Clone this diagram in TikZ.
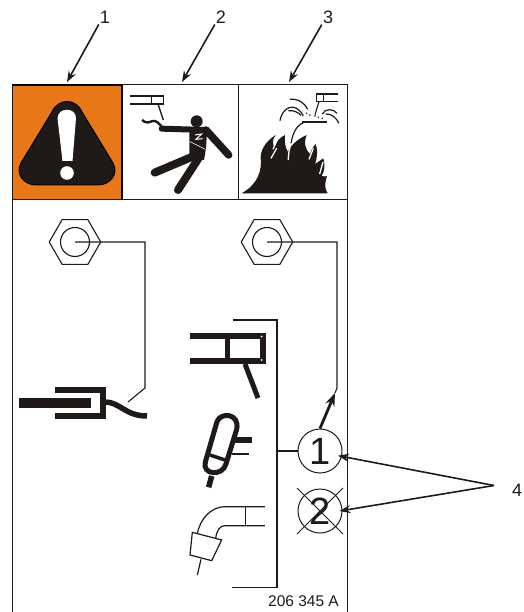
\documentclass[tikz,border=0pt]{standalone}
\usepackage{fontspec}
\setmainfont{Liberation Sans}
\usetikzlibrary{calc, positioning, arrows.meta, shapes.geometric}
\definecolor{warnorange}{HTML}{E87817}
\definecolor{inkblack}{HTML}{1F1A17}
\tikzset{
  frame/.style={line width=1pt, draw=inkblack},
  lead/.style={line width=1.6pt, draw=inkblack, ->},
  wire/.style={line width=1.1pt, draw=inkblack},
  heavy/.style={line width=5.5pt, draw=inkblack},
  thinpart/.style={line width=1.1pt, draw=inkblack},
  nut/.style={draw=inkblack, line width=1.1pt, regular polygon, regular polygon sides=6,
    minimum size=51.5pt, inner sep=0pt},
  bore/.style={draw=inkblack, line width=1.1pt, circle, minimum size=29pt, inner sep=0pt},
  callout/.style={font=\fontsize{18}{20}\selectfont, text=inkblack, inner sep=1pt},
  bubble/.style={draw=inkblack, line width=1pt, circle, minimum size=44pt, inner sep=0pt,
    font=\fontsize{38}{40}\selectfont, text=inkblack}
}
\begin{document}
\begin{tikzpicture}[x=1pt, y=-1pt, >={Stealth[length=11pt,width=8pt]}]
  \useasboundingbox (0,0) rectangle (523,612);
  % label outline and the three warning panels
  \fill[warnorange] (12,85) rectangle (122,200);
  \draw[frame] (12,612) -- (12,85) -- (347,85) -- (347,612);
  \draw[frame] (12,200) -- (347,200);
  \draw[frame] (238.5,85) -- (238.5,200);
  \draw[line width=1.1pt, black] (122,85) -- (122,200);
  \draw[line width=1.6pt, black] (12,85) -- (122,85);
  % warning triangle
  \draw[fill=inkblack, draw=black, line width=1pt]
    (52,112) .. controls (58,98) and (76,98) .. (82,112) -- (113,163)
    .. controls (119,174) and (110,185) .. (98,185) -- (36,185)
    .. controls (24,185) and (15,174) .. (21,163) -- cycle;
  \fill[white] (57.5,118) .. controls (58,107) and (76,107) .. (76,118) -- (72.5,161) -- (62.5,161) -- cycle;
  \fill[white] (67,173) circle (6.8);
  % shock panel
  \begin{scope}[shift={(120,80)}, scale=0.3333]
    \draw[thinpart] (30,48) -- (130,48) -- (130,72) -- (30,72);
    \draw[thinpart] (95,48) -- (95,72);
    \draw[thinpart, line width=1.3pt] (114,72) -- (130,120);
    \draw[line width=2.4pt, inkblack] (66,120) .. controls (78,130) and (85,128) .. (95,124)
      .. controls (105,120) and (115,125) .. (128,145);
    \fill[inkblack] (230,124) circle (18);
    \draw[heavy, line width=6pt, line cap=round] (125,146) -- (258,150);
    \draw[heavy, line width=7.5pt, line cap=round] (258,150) -- (326,225);
    \fill[inkblack] (208,146) -- (262,143) -- (258,205) -- (252,240) -- (208,232) -- cycle;
    \draw[heavy, line width=8pt, line cap=round] (222,228) -- (104,278);
    \draw[heavy, line width=8pt, line cap=round] (240,228) -- (174,330);
    \draw[white, line width=1pt] (225,165) -- (245,162) -- (228,178) -- (248,176);
    \draw[white, line width=0.6pt] (210,185) -- (256,208);
  \end{scope}
  % fire panel
  \begin{scope}[shift={(235,80)}, scale=0.3333]
    \draw[thinpart] (310,42) -- (245,42) -- (245,65) -- (310,65);
    \draw[thinpart] (265,42) -- (265,65);
    \draw[thinpart] (252,65) -- (240,104);
    \draw[line width=1.8pt, inkblack] (200,125) -- (275,125);
    \draw[line width=1.2pt, inkblack] (135,122) .. controls (140,85) and (180,60) .. (205,108);
    \draw[line width=1.2pt, inkblack] (165,58) .. controls (190,55) and (210,70) .. (218,88);
    \draw[line width=1.2pt, inkblack] (160,92) .. controls (175,90) and (190,97) .. (198,106);
    \draw[line width=1.2pt, inkblack] (262,102) .. controls (270,85) and (295,85) .. (306,100);
    \draw[line width=1.2pt, inkblack] (272,102) .. controls (290,100) and (305,115) .. (312,130);
    \foreach \px/\py in {215/100, 225/105, 240/108, 250/112, 262/115} {
      \fill[inkblack] (\px,\py) circle (2.5);
    }
    \fill[inkblack] (20,340) .. controls (55,320) and (78,290) .. (78,245)
      .. controls (72,215) and (90,185) .. (122,165)
      .. controls (112,180) and (112,190) .. (116,200)
      .. controls (125,185) and (135,172) .. (150,165)
      .. controls (148,185) and (150,200) .. (158,215)
      .. controls (165,200) and (185,178) .. (215,165)
      .. controls (205,190) and (212,210) .. (225,222)
      .. controls (228,210) and (235,200) .. (242,192)
      .. controls (250,215) and (245,240) .. (240,252)
      .. controls (250,245) and (258,240) .. (265,235)
      .. controls (272,255) and (268,275) .. (260,288)
      .. controls (268,290) and (272,290) .. (276,288)
      .. controls (272,305) and (265,318) .. (278,340) -- cycle;
    \draw[white, line width=1.3pt] (168,190) .. controls (160,215) and (160,235) .. (160,240);
    \draw[inkblack, line width=1.2pt] (168,190) .. controls (175,150) and (190,130) .. (215,125);
    \draw[white, line width=1.3pt] (130,172) -- (114,208);
    \draw[white, line width=1.3pt] (108,235) -- (125,205);
    \draw[white, line width=1.3pt] (235,205) -- (222,238);
    \draw[white, line width=1.3pt] (264,246) -- (254,282);
  \end{scope}
  % callouts above the panels
  \node[callout] (lab1) at (105,17) {1};
  \node[callout] (lab2) at (221,17) {2};
  \node[callout] (lab3) at (328,17) {3};
  \coordinate (tip1) at (67,82);
  \coordinate (tip2) at (182,82);
  \coordinate (tip3) at (289,82);
  \foreach \i in {1,2,3} {
    \draw[lead] (lab\i.south west) -- (tip\i);
  }
  % nuts and their wires
  \node[nut] (nutA) at (75,242) {};
  \node[bore] (boreA) at (nutA.center) {};
  \node[nut] (nutB) at (267,242) {};
  \node[bore] (boreB) at (nutB.center) {};
  \coordinate (hoseEnd) at (128,402);
  \coordinate (wireEnd) at (335,393);
  \draw[wire] (nutA.center) -- (145,242) -- (145,388) -- (hoseEnd);
  \draw[wire] (nutB.center) -- (337,242) -- (337,388) -- (wireEnd);
  % fluid hose fitting
  \fill[inkblack] (19,398) rectangle (91,408);
  \draw[line width=6pt, inkblack] (55,390) -- (102.5,390) -- (102.5,416) -- (55,416);
  \draw[line width=5.5pt, inkblack] (105,402) .. controls (120,402) and (125,416) .. (147,416);
  % gun
  \draw[heavy] (190,336) -- (266,336);
  \draw[heavy] (190,361) -- (266,361);
  \draw[line width=4.5pt, inkblack] (227.5,333) -- (227.5,363.5);
  \draw[line width=6pt, inkblack] (262.5,333) -- (262.5,363.5);
  \fill[white] (261.5,336.5) circle (1) (261.5,360) circle (1);
  \draw[line width=5pt, inkblack] (245,364) -- (258,398);
  % spray gun
  \begin{scope}[shift={(180,310)}, scale=0.3333]
    \draw[line width=5pt, inkblack] (111,335) .. controls (122,305) and (180,310) .. (170,358)
      -- (138,462) .. controls (128,500) and (65,495) .. (76,456) -- cycle;
    \draw[line width=3.5pt, inkblack] (90,435) -- (135,450);
    \draw[line width=5.5pt, inkblack] (95,498) -- (86,532);
    \draw[line width=5.5pt, inkblack] (160,390) -- (216,390);
    \draw[thinpart] (155,432) -- (206,432);
  \end{scope}
  % elbow
  \begin{scope}[shift={(180,490)}, scale=0.3333]
    \draw[line width=1.2pt, inkblack] (255,50) -- (135,50) .. controls (95,50) and (60,85) .. (52,132);
    \draw[line width=1.2pt, inkblack] (255,107) -- (135,107) .. controls (120,107) and (110,120) .. (107,146);
    \draw[line width=1.2pt, inkblack] (197,50) -- (197,107);
    \draw[line width=1.2pt, inkblack] (37,127) -- (125,150) -- (95,212) -- (30,195) -- cycle;
    \draw[line width=1.2pt, inkblack] (63,208) -- (52,255);
  \end{scope}
  % group bracket and numbered circles
  \node[bubble] (circ1) at (320,451) {1};
  \node[bubble] (circ2) at (320,511) {2};
  \draw[line width=1pt, inkblack] (297,488) -- (343,534);
  \draw[line width=1pt, inkblack] (297,534) -- (343,488);
  \draw[wire] (232.5,320) -- (277,320) -- (277,587.5) -- (232,587.5);
  \draw[wire] (277,451) -- (circ1.west);
  \draw[line width=2.8pt, inkblack, ->, >={Stealth[length=13pt,width=9.5pt]}] (circ1.north) -- (wireEnd);
  % callout four
  \node[callout, anchor=west] (lab4) at (511,490) {4};
  \coordinate (hub4) at (494,485.5);
  \draw[lead] (hub4) -- ([xshift=-4pt]circ1.-12);
  \draw[lead] (hub4) -- ([xshift=-3pt]circ2.east);
  % part number
  \node[font=\fontsize{15.5}{17}\selectfont, text=inkblack, inner sep=0pt] (partno) at (303.5,601) {206 345 A};
\end{tikzpicture}
\end{document}
